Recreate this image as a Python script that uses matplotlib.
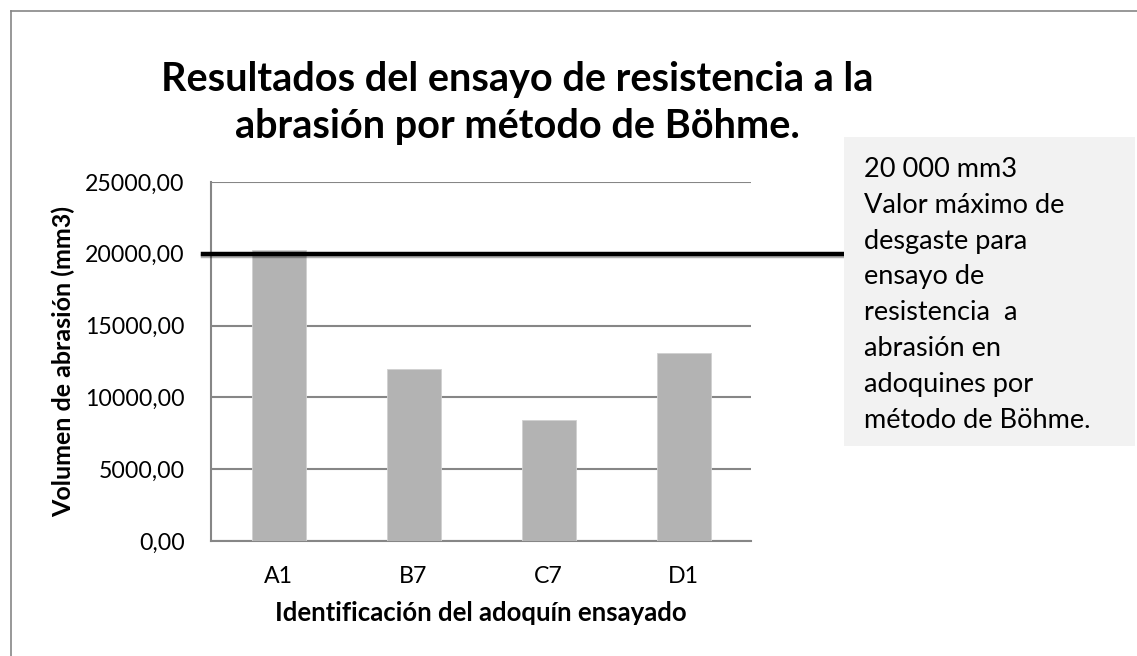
import numpy as np
import matplotlib
matplotlib.use("Agg")
import matplotlib.pyplot as plt
from matplotlib.patches import Rectangle
from matplotlib.ticker import FuncFormatter
import matplotlib.patheffects as pe

plt.rcParams["font.family"] = ["Lato", "DejaVu Sans"]

adoquines = ["A1", "B7", "C7", "D1"]
volumen = [20250, 11950, 8420, 13070]
limite = 20000
y_ticks = [0, 5000, 10000, 15000, 20000, 25000]
titulo = "Resultados del ensayo de resistencia a la\nabrasión por método de Böhme."
nota = ("20 000 mm3\nValor máximo de\ndesgaste para\nensayo de\nresistencia  a\n"
        "abrasión en\nadoquines por\nmétodo de Böhme.")

W, H = 1137, 656
fig = plt.figure(figsize=(W / 100, H / 100), dpi=100)
fig.patch.set_facecolor("white")

# outer chart border (only top and left visible in the crop)
fig.add_artist(plt.Line2D([11 / W, 11 / W], [0, 1 - 11 / H], color="#868686", lw=1.2))
fig.add_artist(plt.Line2D([11 / W, 1], [1 - 11 / H, 1 - 11 / H], color="#868686", lw=1.2))

ax = fig.add_axes([211 / W, 1 - 541 / H, 540 / W, 359 / H])
x = np.arange(len(adoquines))
ax.bar(x, volumen, width=0.4, color="#b3b3b3", edgecolor="#d0d0d0", lw=0.6, zorder=3)
ax.set_xlim(-0.5, len(adoquines) - 0.5)
ax.set_ylim(0, 25000)
ax.set_yticks(y_ticks)
ax.yaxis.set_major_formatter(FuncFormatter(lambda v, p: f"{v:.2f}".replace(".", ",")))
ax.set_xticks(x)
ax.set_xticklabels(adoquines)
ax.grid(axis="y", color="#868686", lw=1.5, zorder=0)
ax.tick_params(length=0, labelsize=16.7)
ax.tick_params(axis="y", pad=19)
ax.tick_params(axis="x", pad=18)
for s in ("top", "right"):
    ax.spines[s].set_visible(False)
for s in ("left", "bottom"):
    ax.spines[s].set_color("#868686")
    ax.spines[s].set_linewidth(1.5)
ax.set_xlabel("Identificación del adoquín ensayado", fontsize=18.5, weight="bold", labelpad=10)
ax.set_ylabel("Volumen de abrasión (mm3)", fontsize=18, weight="bold")
ax.yaxis.set_label_coords(-0.252, 0.5)

# maximum allowed wear line, running out to the note box
ax.plot([-0.015, 1.172], [limite, limite], transform=ax.get_yaxis_transform(),
        color="black", lw=3.2, clip_on=False, zorder=5,
        path_effects=[pe.SimpleLineShadow(offset=(0, -1.5), alpha=0.3), pe.Normal()])

fig.add_artist(Rectangle((844 / W, 1 - 446 / H), 291 / W, 309 / H,
                         transform=fig.transFigure, facecolor="#f2f2f2", edgecolor="none"))
fig.text(864 / W, 1 - 157 / H, nota, ha="left", va="top", fontsize=19.5, linespacing=1.54)

fig.text(0.455, 1 - 103 / H, titulo, ha="center", va="center", fontsize=28.5,
         weight="bold", linespacing=1.35)

fig.savefig("out.png", dpi=100)
